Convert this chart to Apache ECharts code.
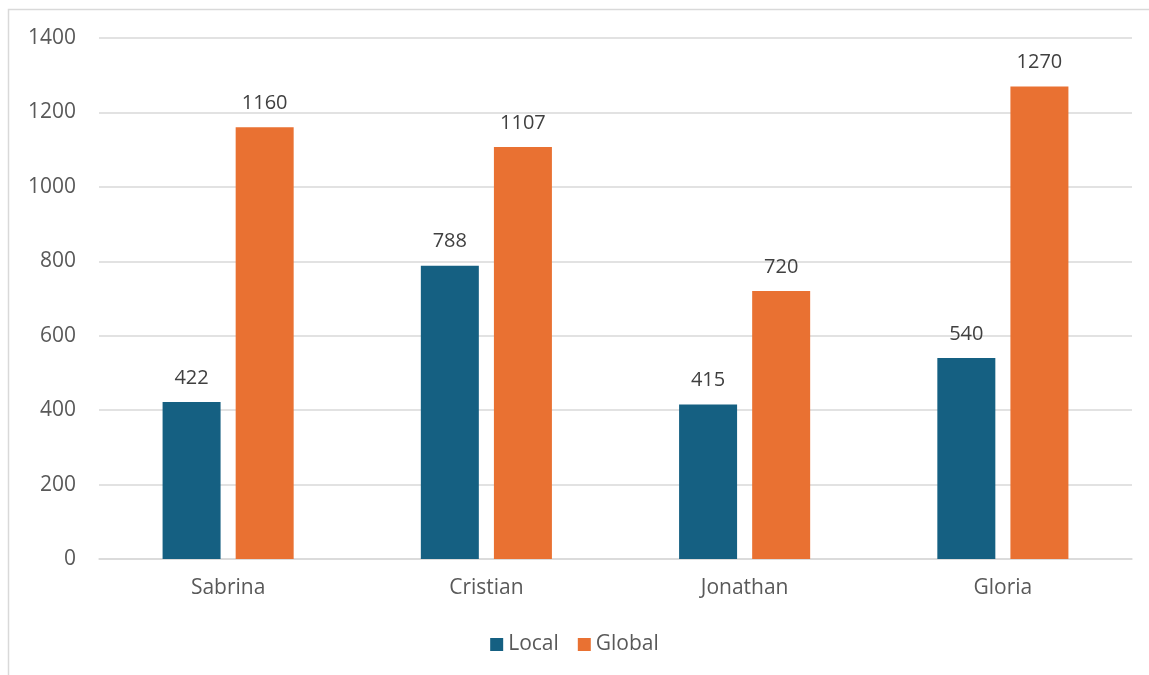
<!DOCTYPE html>
<html>
<head>
<meta charset="utf-8">
<script src="https://cdn.jsdelivr.net/npm/echarts@6/dist/echarts.min.js"></script>
<style>
  html, body { margin: 0; padding: 0; background: #fff; }
  #main { width: 1149px; height: 675px; }
</style>
</head>
<body>
<div id="main"></div>
<script>
var categories = ['Sabrina', 'Cristian', 'Jonathan', 'Gloria'];
var localData = [422, 788, 415, 540];
var globalData = [1160, 1107, 720, 1270];
var yTicks = [0, 200, 400, 600, 800, 1000, 1200, 1400];

var font = '"Open Sans", "Noto Sans", sans-serif';
var chart = echarts.init(document.getElementById('main'));

var labelStyle = {
  show: true,
  position: 'top',
  distance: 14,
  color: '#404040',
  fontSize: 20,
  fontFamily: font
};

chart.setOption({
  backgroundColor: '#fff',
  animation: false,
  graphic: [{
    type: 'rect',
    shape: { x: 8.5, y: 9.5, width: 1160, height: 700 },
    style: { fill: 'none', stroke: '#d9d9d9', lineWidth: 1.5 },
    silent: true
  }],
  grid: { left: 99, right: 17, top: 38, bottom: 116 },
  legend: {
    bottom: 15,
    left: 'center',
    itemWidth: 13,
    itemHeight: 13,
    itemGap: 19,
    icon: 'rect',
    textStyle: { color: '#595959', fontSize: 21, fontFamily: font },
    data: ['Local', 'Global']
  },
  xAxis: {
    type: 'category',
    data: categories,
    axisLine: { lineStyle: { color: '#d9d9d9', width: 1.5 } },
    axisTick: { show: false },
    axisLabel: { color: '#595959', fontSize: 21, fontFamily: font, margin: 19 }
  },
  yAxis: {
    type: 'value',
    min: yTicks[0],
    max: yTicks[yTicks.length - 1],
    interval: 200,
    axisLine: { show: false },
    axisTick: { show: false },
    splitLine: { lineStyle: { color: '#d9d9d9', width: 1.5 } },
    axisLabel: {
      color: '#595959', fontSize: 21, fontFamily: font, margin: 23,
      formatter: function (v) { return String(v); }
    }
  },
  series: [
    {
      name: 'Local',
      type: 'bar',
      data: localData,
      barWidth: 58,
      barGap: '26%',
      itemStyle: { color: '#156082' },
      label: labelStyle
    },
    {
      name: 'Global',
      type: 'bar',
      data: globalData,
      barWidth: 58,
      itemStyle: { color: '#E97132' },
      label: labelStyle
    }
  ]
});
</script>
</body>
</html>
